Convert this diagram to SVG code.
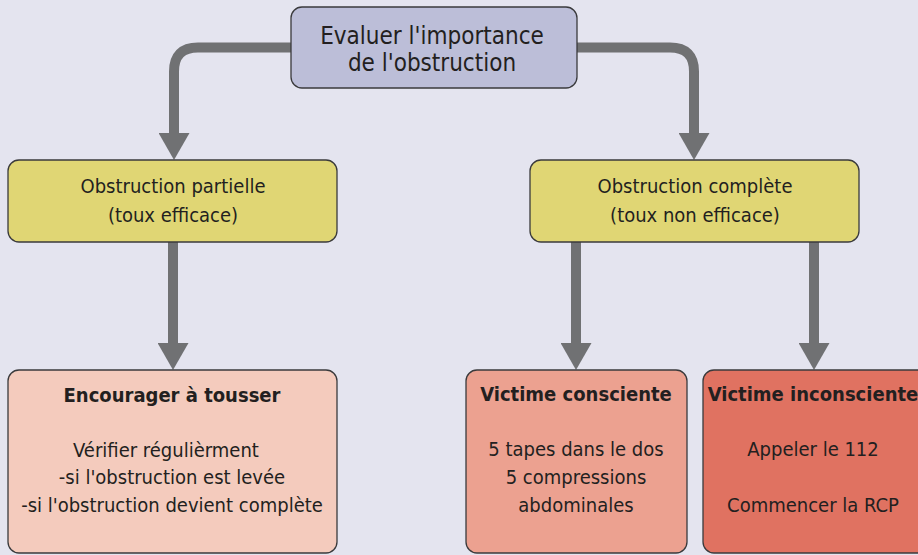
<svg xmlns="http://www.w3.org/2000/svg" width="918" height="555" viewBox="0 0 918 555">
<style>
text{font-family:"DejaVu Sans Condensed","Liberation Sans Narrow","Liberation Sans",sans-serif;fill:#231f20;text-anchor:middle}
.box{stroke:#3a3a3c;stroke-width:1.3}
.t{font-size:20px}
.b{font-size:20px;font-weight:bold}
.big{font-size:24px}
.con{fill:none;stroke:#707173;stroke-width:10}
</style>
<defs>
<marker id="arr" viewBox="0 0 27 31" refX="1" refY="15.5" markerWidth="27" markerHeight="31" markerUnits="userSpaceOnUse" orient="auto">
<path d="M0,0 L27,15.5 L0,31 z" fill="#707173"/>
</marker>
</defs>
<rect width="918" height="555" fill="#e4e4ef"/>
<g id="connectors">
<path class="con" d="M292 47.5 H198 Q174 47.5 174 71.5 V134" marker-end="url(#arr)"/>
<path class="con" d="M576 47.5 H670 Q694 47.5 694 71.5 V134" marker-end="url(#arr)"/>
<path class="con" d="M173 242 V344" marker-end="url(#arr)"/>
<path class="con" d="M576 242 V344" marker-end="url(#arr)"/>
<path class="con" d="M814 242 V344" marker-end="url(#arr)"/>
</g>
<g id="top">
<rect class="box" x="291" y="7" width="286" height="81" rx="11" fill="#bcbed8"/>
<text class="big" x="432" y="44">Evaluer l'importance</text>
<text class="big" x="432" y="71">de l'obstruction</text>
</g>
<g id="partielle">
<rect class="box" x="8" y="160" width="329" height="82" rx="11" fill="#e0d674"/>
<text class="t" x="173" y="193">Obstruction partielle</text>
<text class="t" x="173" y="222">(toux efficace)</text>
</g>
<g id="complete">
<rect class="box" x="530" y="160" width="329" height="82" rx="11" fill="#e0d674"/>
<text class="t" x="695" y="193">Obstruction complète</text>
<text class="t" x="695" y="222">(toux non efficace)</text>
</g>
<g id="tousser">
<rect class="box" x="8" y="370" width="329" height="183" rx="11" fill="#f4cbbd"/>
<text class="b" x="172" y="402">Encourager à tousser</text>
<text class="t" x="166" y="457">Vérifier régulièrment</text>
<text class="t" x="172" y="484">-si l'obstruction est levée</text>
<text class="t" x="172" y="512">-si l'obstruction devient complète</text>
</g>
<g id="consciente">
<rect class="box" x="466" y="370" width="221" height="183" rx="11" fill="#eca190"/>
<text class="b" x="576" y="401">Victime consciente</text>
<text class="t" x="576" y="456">5 tapes dans le dos</text>
<text class="t" x="576" y="484">5 compressions</text>
<text class="t" x="576" y="512">abdominales</text>
</g>
<g id="inconsciente">
<rect class="box" x="703" y="370" width="226" height="183" rx="11" fill="#e07261"/>
<text class="b" x="813" y="401">Victime inconsciente</text>
<text class="t" x="813" y="456">Appeler le 112</text>
<text class="t" x="813" y="512">Commencer la RCP</text>
</g>
</svg>
